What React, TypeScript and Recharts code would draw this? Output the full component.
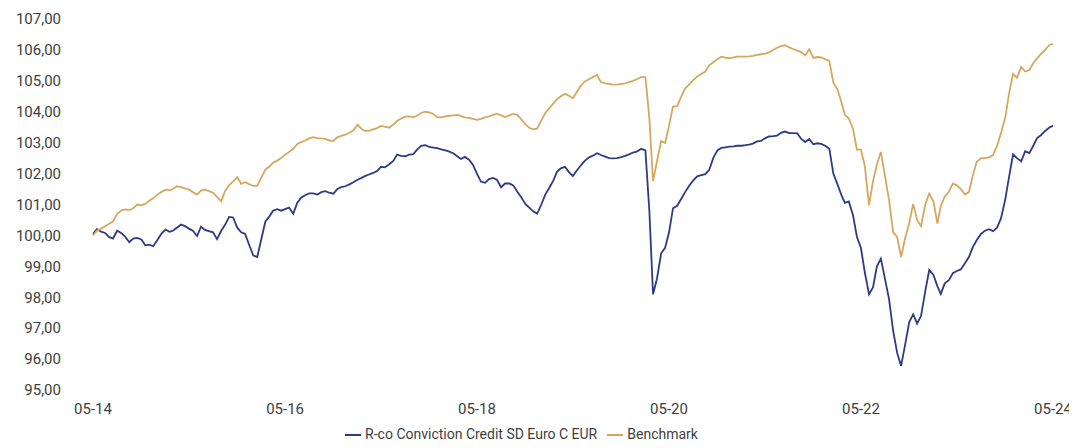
import { LineChart, Line, XAxis, YAxis, Legend } from "recharts";

// half-monthly observation dates
const dates = [
  "2014-05-01", "2014-05-16", "2014-06-01", "2014-06-16", "2014-07-01", "2014-07-16", "2014-08-01", "2014-08-16",
  "2014-09-01", "2014-09-16", "2014-10-01", "2014-10-16", "2014-11-01", "2014-11-16", "2014-12-01", "2014-12-16",
  "2015-01-01", "2015-01-16", "2015-02-01", "2015-02-16", "2015-03-01", "2015-03-16", "2015-04-01", "2015-04-16",
  "2015-05-01", "2015-05-16", "2015-06-01", "2015-06-16", "2015-07-01", "2015-07-16", "2015-08-01", "2015-08-16",
  "2015-09-01", "2015-09-16", "2015-10-01", "2015-10-16", "2015-11-01", "2015-11-16", "2015-12-01", "2015-12-16",
  "2016-01-01", "2016-01-16", "2016-02-01", "2016-02-16", "2016-03-01", "2016-03-16", "2016-04-01", "2016-04-16",
  "2016-05-01", "2016-05-16", "2016-06-01", "2016-06-16", "2016-07-01", "2016-07-16", "2016-08-01", "2016-08-16",
  "2016-09-01", "2016-09-16", "2016-10-01", "2016-10-16", "2016-11-01", "2016-11-16", "2016-12-01", "2016-12-16",
  "2017-01-01", "2017-01-16", "2017-02-01", "2017-02-16", "2017-03-01", "2017-03-16", "2017-04-01", "2017-04-16",
  "2017-05-01", "2017-05-16", "2017-06-01", "2017-06-16", "2017-07-01", "2017-07-16", "2017-08-01", "2017-08-16",
  "2017-09-01", "2017-09-16", "2017-10-01", "2017-10-16", "2017-11-01", "2017-11-16", "2017-12-01", "2017-12-16",
  "2018-01-01", "2018-01-16", "2018-02-01", "2018-02-16", "2018-03-01", "2018-03-16", "2018-04-01", "2018-04-16",
  "2018-05-01", "2018-05-16", "2018-06-01", "2018-06-16", "2018-07-01", "2018-07-16", "2018-08-01", "2018-08-16",
  "2018-09-01", "2018-09-16", "2018-10-01", "2018-10-16", "2018-11-01", "2018-11-16", "2018-12-01", "2018-12-16",
  "2019-01-01", "2019-01-16", "2019-02-01", "2019-02-16", "2019-03-01", "2019-03-16", "2019-04-01", "2019-04-16",
  "2019-05-01", "2019-05-16", "2019-06-01", "2019-06-16", "2019-07-01", "2019-07-16", "2019-08-01", "2019-08-16",
  "2019-09-01", "2019-09-16", "2019-10-01", "2019-10-16", "2019-11-01", "2019-11-16", "2019-12-01", "2019-12-16",
  "2020-01-01", "2020-01-16", "2020-02-01", "2020-02-16", "2020-03-01", "2020-03-16", "2020-04-01", "2020-04-16",
  "2020-05-01", "2020-05-16", "2020-06-01", "2020-06-16", "2020-07-01", "2020-07-16", "2020-08-01", "2020-08-16",
  "2020-09-01", "2020-09-16", "2020-10-01", "2020-10-16", "2020-11-01", "2020-11-16", "2020-12-01", "2020-12-16",
  "2021-01-01", "2021-01-16", "2021-02-01", "2021-02-16", "2021-03-01", "2021-03-16", "2021-04-01", "2021-04-16",
  "2021-05-01", "2021-05-16", "2021-06-01", "2021-06-16", "2021-07-01", "2021-07-16", "2021-08-01", "2021-08-16",
  "2021-09-01", "2021-09-16", "2021-10-01", "2021-10-16", "2021-11-01", "2021-11-16", "2021-12-01", "2021-12-16",
  "2022-01-01", "2022-01-16", "2022-02-01", "2022-02-16", "2022-03-01", "2022-03-16", "2022-04-01", "2022-04-16",
  "2022-05-01", "2022-05-16", "2022-06-01", "2022-06-16", "2022-07-01", "2022-07-16", "2022-08-01", "2022-08-16",
  "2022-09-01", "2022-09-16", "2022-10-01", "2022-10-16", "2022-11-01", "2022-11-16", "2022-12-01", "2022-12-16",
  "2023-01-01", "2023-01-16", "2023-02-01", "2023-02-16", "2023-03-01", "2023-03-16", "2023-04-01", "2023-04-16",
  "2023-05-01", "2023-05-16", "2023-06-01", "2023-06-16", "2023-07-01", "2023-07-16", "2023-08-01", "2023-08-16",
  "2023-09-01", "2023-09-16", "2023-10-01", "2023-10-16", "2023-11-01", "2023-11-16", "2023-12-01", "2023-12-16",
  "2024-01-01", "2024-01-16", "2024-02-01", "2024-02-16", "2024-03-01", "2024-03-16", "2024-04-01", "2024-04-16",
  "2024-05-01",
];

const fundValues = [
  100.05, 100.2, 100.12, 100.08, 99.95, 99.9, 100.15, 100.08, 99.95, 99.78,
  99.9, 99.92, 99.87, 99.68, 99.7, 99.65, 99.85, 100.05, 100.19, 100.12,
  100.15, 100.25, 100.35, 100.3, 100.22, 100.15, 99.98, 100.28, 100.18, 100.14,
  100.1, 99.88, 100.15, 100.35, 100.6, 100.58, 100.25, 100.1, 100.05, 99.7,
  99.35, 99.3, 99.9, 100.45, 100.6, 100.8, 100.85, 100.8, 100.85, 100.9,
  100.7, 101.05, 101.22, 101.3, 101.36, 101.36, 101.32, 101.4, 101.43, 101.38,
  101.35, 101.5, 101.56, 101.59, 101.65, 101.72, 101.8, 101.86, 101.92, 101.97,
  102.02, 102.08, 102.22, 102.2, 102.3, 102.4, 102.61, 102.57, 102.56, 102.61,
  102.63, 102.78, 102.9, 102.92, 102.86, 102.84, 102.82, 102.78, 102.75, 102.71,
  102.65, 102.55, 102.47, 102.54, 102.45, 102.28, 102.0, 101.74, 101.7, 101.82,
  101.86, 101.8, 101.56, 101.68, 101.68, 101.62, 101.42, 101.24, 101.02, 100.9,
  100.78, 100.7, 101.0, 101.32, 101.55, 101.78, 102.05, 102.17, 102.22, 102.05,
  101.92, 102.1, 102.27, 102.42, 102.52, 102.58, 102.66, 102.6, 102.55, 102.5,
  102.49, 102.5, 102.53, 102.57, 102.62, 102.68, 102.72, 102.8, 102.75, 100.8,
  98.1, 98.6, 99.42, 99.6, 100.1, 100.88, 100.96, 101.18, 101.4, 101.6,
  101.78, 101.91, 101.95, 101.98, 102.12, 102.5, 102.75, 102.83, 102.85, 102.87,
  102.88, 102.9, 102.9, 102.92, 102.94, 102.97, 103.04, 103.06, 103.14, 103.2,
  103.21, 103.23, 103.32, 103.36, 103.31, 103.31, 103.3, 103.12, 103.02, 103.12,
  102.95, 102.98, 102.96, 102.9, 102.8, 102.0, 101.65, 101.3, 101.05, 101.1,
  100.65, 99.95, 99.6, 98.8, 98.1, 98.32, 99.0, 99.25, 98.58, 97.95,
  96.9, 96.2, 95.78, 96.45, 97.2, 97.45, 97.15, 97.4, 98.2, 98.88,
  98.72, 98.36, 98.1, 98.45, 98.55, 98.78, 98.85, 98.9, 99.1, 99.3,
  99.62, 99.85, 100.05, 100.15, 100.2, 100.14, 100.25, 100.55, 101.15, 101.9,
  102.62, 102.5, 102.4, 102.72, 102.66, 102.9, 103.15, 103.24, 103.38, 103.48,
  103.55,
];

const benchValues = [
  100.0, 100.15, 100.22, 100.3, 100.38, 100.45, 100.7, 100.8, 100.84, 100.82,
  100.88, 101.0, 100.97, 101.02, 101.12, 101.2, 101.32, 101.4, 101.48, 101.46,
  101.5, 101.59, 101.56, 101.52, 101.48, 101.4, 101.32, 101.45, 101.48, 101.43,
  101.38, 101.25, 101.1, 101.45, 101.62, 101.75, 101.88, 101.67, 101.72, 101.66,
  101.6, 101.6, 101.88, 102.13, 102.22, 102.35, 102.42, 102.5, 102.61, 102.7,
  102.8, 102.95, 103.02, 103.07, 103.14, 103.18, 103.15, 103.14, 103.12, 103.07,
  103.06, 103.18, 103.22, 103.26, 103.32, 103.4, 103.58, 103.44, 103.38, 103.38,
  103.43, 103.47, 103.54, 103.52, 103.48, 103.58, 103.7, 103.78, 103.84, 103.85,
  103.82, 103.88, 103.96, 104.0, 103.98, 103.93, 103.82, 103.82, 103.85, 103.87,
  103.88, 103.9, 103.86, 103.82, 103.8, 103.77, 103.74, 103.77, 103.82, 103.85,
  103.9, 103.94, 103.88, 103.83, 103.88, 103.93, 103.9, 103.76, 103.6, 103.48,
  103.43, 103.45, 103.72, 103.96, 104.12, 104.27, 104.4, 104.5, 104.58, 104.52,
  104.44, 104.64, 104.85, 104.98, 105.05, 105.12, 105.19, 104.96, 104.92, 104.9,
  104.88, 104.88, 104.9, 104.92, 104.96, 105.0, 105.06, 105.12, 105.12, 103.8,
  101.75, 102.4, 103.05, 102.99, 103.55, 104.17, 104.18, 104.48, 104.75, 104.88,
  105.02, 105.14, 105.22, 105.3, 105.5, 105.6, 105.7, 105.78, 105.75, 105.73,
  105.76, 105.78, 105.78, 105.78, 105.79, 105.81, 105.84, 105.86, 105.88, 105.92,
  106.0, 106.07, 106.12, 106.15, 106.08, 106.03, 105.98, 105.93, 105.82, 106.02,
  105.74, 105.77, 105.76, 105.7, 105.64, 104.95, 104.72, 104.3, 103.9, 103.78,
  103.45, 102.77, 102.78, 102.24, 100.98, 101.75, 102.3, 102.7, 101.9, 101.15,
  100.1, 99.95, 99.3, 99.9, 100.4, 101.02, 100.5, 100.3, 101.0, 101.35,
  101.1, 100.38, 100.95, 101.25, 101.42, 101.68, 101.62, 101.5, 101.32, 101.4,
  101.95, 102.38, 102.5, 102.5, 102.52, 102.6, 102.9, 103.3, 103.8, 104.6,
  105.22, 105.1, 105.45, 105.3, 105.35, 105.57, 105.72, 105.87, 106.0, 106.15,
  106.2,
];

const tickDates = ["2014-05-01", "2016-05-01", "2018-05-01", "2020-05-01", "2022-05-01", "2024-05-01"];
const tickLabels = ["05-14", "05-16", "05-18", "05-20", "05-22", "05-24"];
const yTicks = [95, 96, 97, 98, 99, 100, 101, 102, 103, 104, 105, 106, 107];

const FUND_NAME = "R-co Conviction Credit SD Euro C EUR";
const BENCH_NAME = "Benchmark";
const FUND_COLOR = "#2d3b85";
const BENCH_COLOR = "#d5a85e";
const FONT = "Roboto, 'Liberation Sans', sans-serif";

const data = dates.map((d, i) => ({
  t: Date.parse(d),
  fund: fundValues[i],
  bench: benchValues[i],
}));

const tickTimes = tickDates.map((d) => Date.parse(d));

export default function App() {
  return (
    <div style={{ margin: -8, fontFamily: FONT }}>
      <LineChart
        width={1077}
        height={448}
        data={data}
        margin={{ top: 19, right: 24, bottom: 0, left: 0 }}
      >
        <XAxis
          dataKey="t"
          type="number"
          scale="time"
          domain={[tickTimes[0], tickTimes[tickTimes.length - 1]]}
          ticks={tickTimes}
          tickFormatter={(v) => tickLabels[tickTimes.indexOf(v)] ?? ""}
          axisLine={false}
          tickLine={false}
          tickSize={0}
          tickMargin={13}
          height={36}
          tick={{ fill: "#404040", fontSize: 15, fontFamily: FONT }}
        />
        <YAxis
          type="number"
          domain={[95, 107]}
          ticks={yTicks}
          tickFormatter={(v) => v.toFixed(2).replace(".", ",")}
          axisLine={false}
          tickLine={false}
          tickSize={0}
          tickMargin={32}
          width={93}
          tick={{ fill: "#404040", fontSize: 15, fontFamily: FONT }}
        />
        <Legend
          verticalAlign="bottom"
          height={22}
          iconType="plainline"
          iconSize={16}
          itemSorter={(item: any) => (item.dataKey === "fund" ? 0 : 1)}
          wrapperStyle={{ fontSize: 14, fontFamily: FONT, lineHeight: "18px", bottom: 1 }}
          formatter={(value) => <span style={{ color: "#404040" }}>{value}</span>}
        />
        <Line
          type="linear"
          dataKey="fund"
          name={FUND_NAME}
          stroke={FUND_COLOR}
          strokeWidth={1.8}
          dot={false}
          isAnimationActive={false}
        />
        <Line
          type="linear"
          dataKey="bench"
          name={BENCH_NAME}
          stroke={BENCH_COLOR}
          strokeWidth={1.8}
          dot={false}
          isAnimationActive={false}
        />
      </LineChart>
    </div>
  );
}
